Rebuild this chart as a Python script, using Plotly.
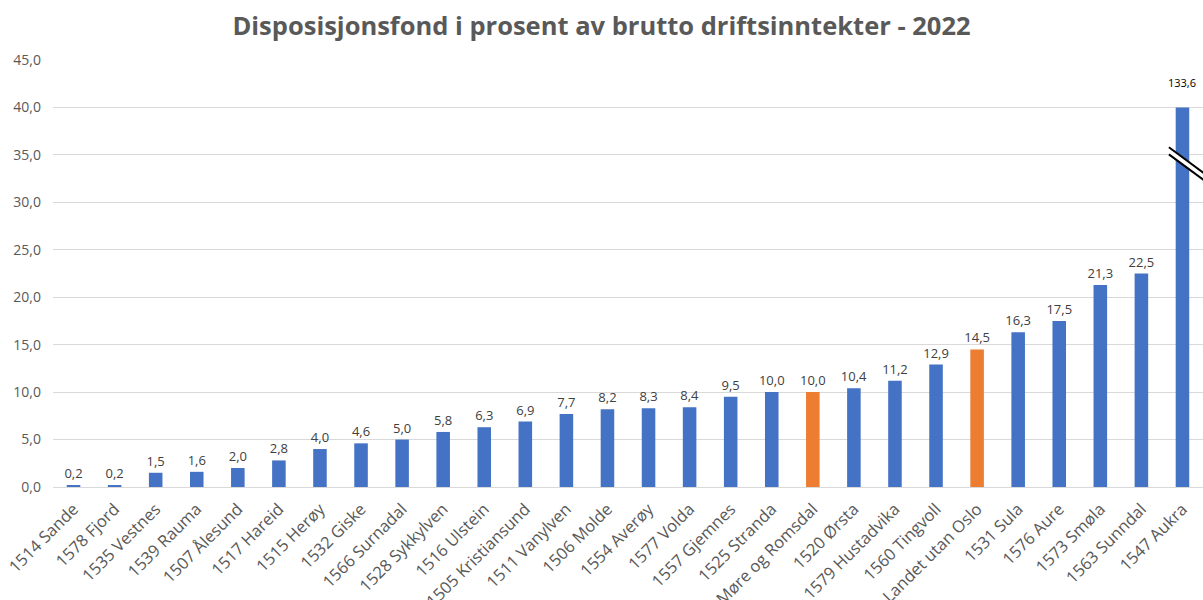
import plotly.graph_objects as go

categories = ["1514 Sande", "1578 Fjord", "1535 Vestnes", "1539 Rauma", "1507 Ålesund",
              "1517 Hareid", "1515 Herøy", "1532 Giske", "1566 Surnadal", "1528 Sykkylven",
              "1516 Ulstein", "1505 Kristiansund", "1511 Vanylven", "1506 Molde", "1554 Averøy",
              "1577 Volda", "1557 Gjemnes", "1525 Stranda", "Møre og Romsdal", "1520 Ørsta",
              "1579 Hustadvika", "1560 Tingvoll", "Landet utan Oslo", "1531 Sula", "1576 Aure",
              "1573 Smøla", "1563 Sunndal", "1547 Aukra"]
values = [0.2, 0.2, 1.5, 1.6, 2.0, 2.8, 4.0, 4.6, 5.0, 5.8, 6.3, 6.9, 7.7, 8.2, 8.3,
          8.4, 9.5, 10.0, 10.0, 10.4, 11.2, 12.9, 14.5, 16.3, 17.5, 21.3, 22.5, 133.6]
highlight = ["Møre og Romsdal", "Landet utan Oslo"]
axis_cap = 40.0
y_ticks = [0, 5, 10, 15, 20, 25, 30, 35, 40, 45]

BLUE = "#4472C4"
ORANGE = "#ED7D31"
FONT = "Open Sans"

shown = [min(v, axis_cap) for v in values]
colors = [ORANGE if c in highlight else BLUE for c in categories]
fmt = lambda v: f"{v:.1f}".replace(".", ",")
texts = [fmt(v) if v <= axis_cap else "" for v in values]

fig = go.Figure()
fig.add_trace(go.Bar(
    x=categories, y=shown, marker=dict(color=colors, line=dict(width=0)),
    text=texts, textposition="outside", cliponaxis=False, constraintext="none",
    textfont=dict(family=FONT, size=13, color="#404040"),
))

# label for the capped bar
for c, v in zip(categories, values):
    if v > axis_cap:
        fig.add_annotation(x=c, y=axis_cap, text=fmt(v), showarrow=False,
                           yshift=25, font=dict(family=FONT, size=11, color="#000000"))
        idx = categories.index(c)
        # axis-break marker
        x0, x1 = idx - 0.33, idx + 0.58
        ya0, ya1 = 35.8, 32.9
        off = 0.75
        fig.add_shape(type="path",
                      path=f"M {x0} {ya0} L {x1} {ya1} L {x1} {ya1-off} L {x0} {ya0-off} Z",
                      xref="x", yref="y", fillcolor="white", line=dict(width=0))
        fig.add_shape(type="line", x0=x0, y0=ya0, x1=x1, y1=ya1, xref="x", yref="y",
                      line=dict(color="black", width=2))
        fig.add_shape(type="line", x0=x0, y0=ya0 - off, x1=x1, y1=ya1 - off, xref="x", yref="y",
                      line=dict(color="black", width=2))

fig.update_layout(
    width=1203, height=600,
    margin=dict(l=53, r=0, t=60, b=113),
    paper_bgcolor="white", plot_bgcolor="white",
    separators=", ",
    showlegend=False,
    bargap=0.67,
    title=dict(text="<b>Disposisjonsfond i prosent av brutto driftsinntekter - 2022</b>",
               x=0.5, xanchor="center", y=0.972, yanchor="top",
               font=dict(family=FONT, size=25.5, color="#595959")),
    xaxis=dict(tickangle=-45, tickfont=dict(family=FONT, size=16.5, color="#595959"),
               showgrid=False, showline=True, linecolor="#D9D9D9", linewidth=1,
               ticks="", range=[-0.5, len(categories) - 0.5], automargin=False,
               ticklabelstandoff=5),
    yaxis=dict(range=[0, 45], tickvals=y_ticks, tickformat=".1f",
               tickfont=dict(family=FONT, size=14, color="#595959"),
               showgrid=True, gridcolor="#D9D9D9", gridwidth=1, zeroline=False,
               showline=False, ticks="", automargin=False, ticklabelstandoff=11),
)

fig.write_html("out.html", config={"displayModeBar": False},
               post_script="document.body.style.margin='0px';document.body.style.overflow='hidden';")
